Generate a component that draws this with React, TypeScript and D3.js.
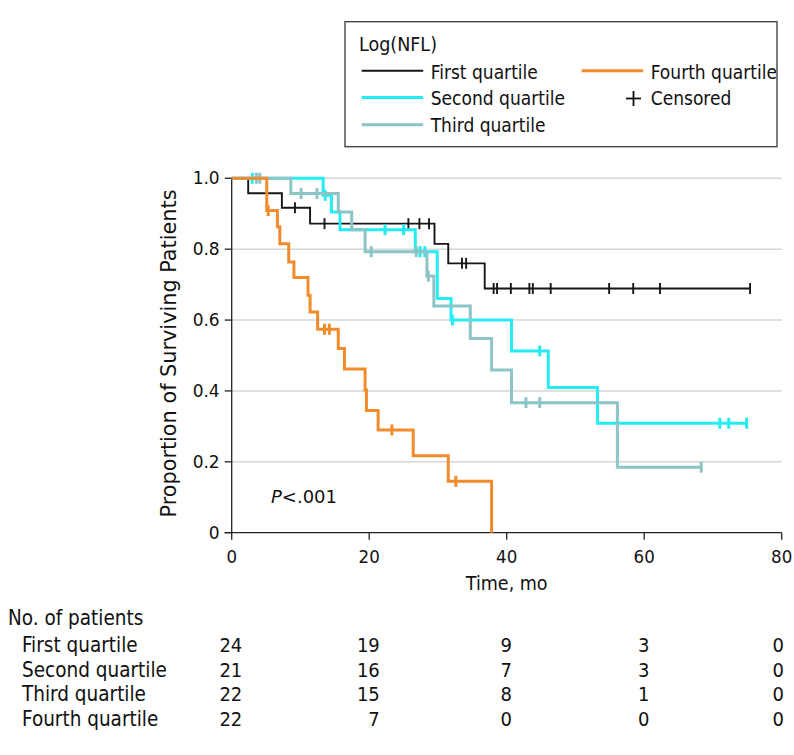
import React from "react";
import * as d3 from "d3";

// ---------- data ----------
const groupNames = ["First quartile", "Second quartile", "Third quartile", "Fourth quartile"];
const groupColors = ["#161616", "#25ecf2", "#8dc4c5", "#f28b2b"];

// Kaplan-Meier step events: time of drop (months) and survival after drop
const q1Times = [2.4, 7.3, 11.4, 29.5, 31.5, 36.8];
const q1Surv = [0.958, 0.917, 0.872, 0.815, 0.76, 0.689];
const q1Censor = [9.2, 13.5, 25.7, 27.3, 28.7, 33.5, 34.1, 38.1, 38.6, 40.6, 43.3, 43.8, 46.4, 54.9, 58.4, 62.3, 75.4];

const q2Times = [13.3, 14.5, 15.75, 26.7, 29.9, 31.9, 40.7, 46.05, 53.2];
const q2Surv = [0.952, 0.905, 0.855, 0.793, 0.661, 0.6, 0.513, 0.41, 0.309];
const q2Censor = [3.0, 13.6, 22.3, 25.0, 27.4, 28.1, 32.1, 44.8, 71.0, 72.3, 74.9];

const q3Times = [8.6, 15.5, 17.45, 19.4, 28.4, 29.4, 34.7, 37.8, 40.7, 56.1];
const q3Surv = [0.957, 0.905, 0.855, 0.793, 0.724, 0.64, 0.548, 0.459, 0.367, 0.185];
const q3Censor = [3.6, 4.1, 10.1, 12.4, 20.3, 26.85, 28.6, 42.8, 44.8, 68.3];

const q4Times = [5.1, 6.65, 7.0, 8.3, 9.05, 11.1, 11.4, 12.5, 15.5, 16.4, 19.4, 19.6, 21.3, 26.4, 31.5, 37.8];
const q4Surv = [0.909, 0.863, 0.815, 0.764, 0.72, 0.67, 0.623, 0.574, 0.52, 0.462, 0.403, 0.345, 0.29, 0.217, 0.145, 0];
const q4Censor = [5.3, 13.5, 14.2, 23.3, 32.6];

const xTicks = [0, 20, 40, 60, 80];
const yTicks = [0, 0.2, 0.4, 0.6, 0.8, 1.0];
const yTickLabels = ["0", "0.2", "0.4", "0.6", "0.8", "1.0"];

const riskTimes = [0, 20, 40, 60, 80];
const risk1 = [24, 19, 9, 3, 0];
const risk2 = [21, 16, 7, 3, 0];
const risk3 = [22, 15, 8, 1, 0];
const risk4 = [22, 7, 0, 0, 0];

// ---------- layout ----------
const W = 794;
const H = 755;
const X0 = 231.7;
const X1 = 781.7;
const Y0 = 532.7;
const Y1 = 178.3;
const CF = "'DejaVu Sans Condensed', 'DejaVu Sans', sans-serif";
const RF = "'DejaVu Sans', sans-serif";

const series = [
  { times: q1Times, surv: q1Surv, censor: q1Censor, width: 1.9 },
  { times: q2Times, surv: q2Surv, censor: q2Censor, width: 3 },
  { times: q3Times, surv: q3Surv, censor: q3Censor, width: 3 },
  { times: q4Times, surv: q4Surv, censor: q4Censor, width: 3 },
];
const riskRows = [risk1, risk2, risk3, risk4];

export default function App() {
  const x = d3.scaleLinear().domain([0, 80]).range([X0, X1]);
  const y = d3.scaleLinear().domain([0, 1]).range([Y0, Y1]);

  const survAt = (s: typeof series[number], t: number) => {
    let v = 1;
    s.times.forEach((tt, i) => {
      if (tt <= t) v = s.surv[i];
    });
    return v;
  };

  const line = d3
    .line<[number, number]>()
    .x((d) => x(d[0]))
    .y((d) => y(d[1]))
    .curve(d3.curveStepAfter);

  const paths = series.map((s) => {
    const pts: [number, number][] = [[0, 1]];
    s.times.forEach((t, i) => pts.push([t, s.surv[i]]));
    const lastT = Math.max(d3.max(s.times) || 0, d3.max(s.censor) || 0);
    const lastS = s.surv[s.surv.length - 1];
    if (lastT > s.times[s.times.length - 1]) pts.push([lastT, lastS]);
    return line(pts) || "";
  });

  const legendRows = [
    { label: groupNames[0], color: groupColors[0], w: 1.9, lx: 361.7, ty: 78.5, ly: 70.7 },
    { label: groupNames[1], color: groupColors[1], w: 3, lx: 361.7, ty: 105.2, ly: 97.4 },
    { label: groupNames[2], color: groupColors[2], w: 3, lx: 361.7, ty: 132, ly: 124.8 },
    { label: groupNames[3], color: groupColors[3], w: 3, lx: 581.7, ty: 78.5, ly: 70.7 },
  ];

  return (
    <svg
      width={W}
      height={H}
      style={{ position: "absolute", left: 0, top: 0, background: "#fff" }}
    >
      <rect x={0} y={0} width={W} height={H} fill="#fff" />

      {/* legend */}
      <rect x={345} y={21.7} width={432} height={125} fill="#fff" stroke="#3a3a3a" strokeWidth={1.3} />
      <text x={359} y={51} fontFamily={CF} fontSize={19.5} fill="#111">Log(NFL)</text>
      {legendRows.map((r, i) => (
        <g key={i}>
          <line x1={r.lx} x2={r.lx + 61.5} y1={r.ly} y2={r.ly} stroke={r.color} strokeWidth={r.w} />
          <text x={r.lx + 69} y={r.ty} fontFamily={CF} fontSize={19} fill="#111">{r.label}</text>
        </g>
      ))}
      <line x1={626} x2={641} y1={98.5} y2={98.5} stroke="#111" strokeWidth={1.8} />
      <line x1={633.5} x2={633.5} y1={91} y2={106} stroke="#111" strokeWidth={1.8} />
      <text x={650.7} y={105.2} fontFamily={CF} fontSize={19} fill="#111">Censored</text>

      {/* gridlines */}
      {yTicks.filter((v) => v > 0).map((v) => (
        <line key={v} x1={X0} x2={X1} y1={y(v)} y2={y(v)} stroke="#d6d6d6" strokeWidth={1.6} />
      ))}

      {/* axes */}
      <line x1={X0} x2={X0} y1={Y1 - 1} y2={Y0} stroke="#222" strokeWidth={1.3} />
      <line x1={X0 - 7} x2={X1} y1={Y0} y2={Y0} stroke="#222" strokeWidth={1.3} />
      {yTicks.map((v, i) => (
        <g key={v}>
          <line x1={X0 - 7} x2={X0} y1={y(v)} y2={y(v)} stroke="#222" strokeWidth={1.3} />
          <text x={X0 - 12} y={y(v) + 6} textAnchor="end" fontFamily={RF} fontSize={17} fill="#111">
            {yTickLabels[i]}
          </text>
        </g>
      ))}
      {xTicks.map((v) => (
        <g key={v}>
          <line x1={x(v)} x2={x(v)} y1={Y0} y2={Y0 + 7} stroke="#222" strokeWidth={1.3} />
          <text x={x(v)} y={Y0 + 30} textAnchor="middle" fontFamily={CF} fontSize={18.5} fill="#111">
            {v}
          </text>
        </g>
      ))}
      <text x={(X0 + X1) / 2} y={Y0 + 57} textAnchor="middle" fontFamily={CF} fontSize={19.5} fill="#111">
        Time, mo
      </text>
      <text
        transform={`translate(${176},${(Y0 + Y1) / 2 - 2}) rotate(-90)`}
        textAnchor="middle"
        fontFamily={CF}
        fontSize={20.5}
        textLength={328}
        lengthAdjust="spacingAndGlyphs"
        fill="#111"
      >
        Proportion of Surviving Patients
      </text>

      {/* curves */}
      {series.map((s, i) => (
        <g key={i}>
          <path d={paths[i]} fill="none" stroke={groupColors[i]} strokeWidth={s.width} />
          {s.censor.map((c, j) => (
            <line
              key={j}
              x1={x(c)}
              x2={x(c)}
              y1={y(survAt(s, c)) - 5.5}
              y2={y(survAt(s, c)) + 5.5}
              stroke={groupColors[i]}
              strokeWidth={s.width}
            />
          ))}
        </g>
      ))}

      <text x={271} y={503} fontFamily={RF} fontSize={18} fill="#111">
        <tspan fontStyle="italic">P</tspan>&lt;.001
      </text>

      {/* risk table */}
      <text x={8} y={625} fontFamily={CF} fontSize={20.5} fill="#111">No. of patients</text>
      {riskRows.map((row, i) => (
        <g key={i}>
          <text x={22} y={652 + i * 24.5} fontFamily={CF} fontSize={20.5} fill="#111">
            {groupNames[i]}
          </text>
          {row.map((n, j) => {
            const maxLen = d3.max(riskRows, (r) => String(r[j]).length) || 1;
            return (
              <text
                key={j}
                x={x(riskTimes[j]) + maxLen * 5.3 - (j === 4 ? 3 : 0)}
                y={652 + i * 24.5}
                textAnchor="end"
                fontFamily={CF}
                fontSize={20}
                fill="#111"
              >
                {n}
              </text>
            );
          })}
        </g>
      ))}
    </svg>
  );
}
